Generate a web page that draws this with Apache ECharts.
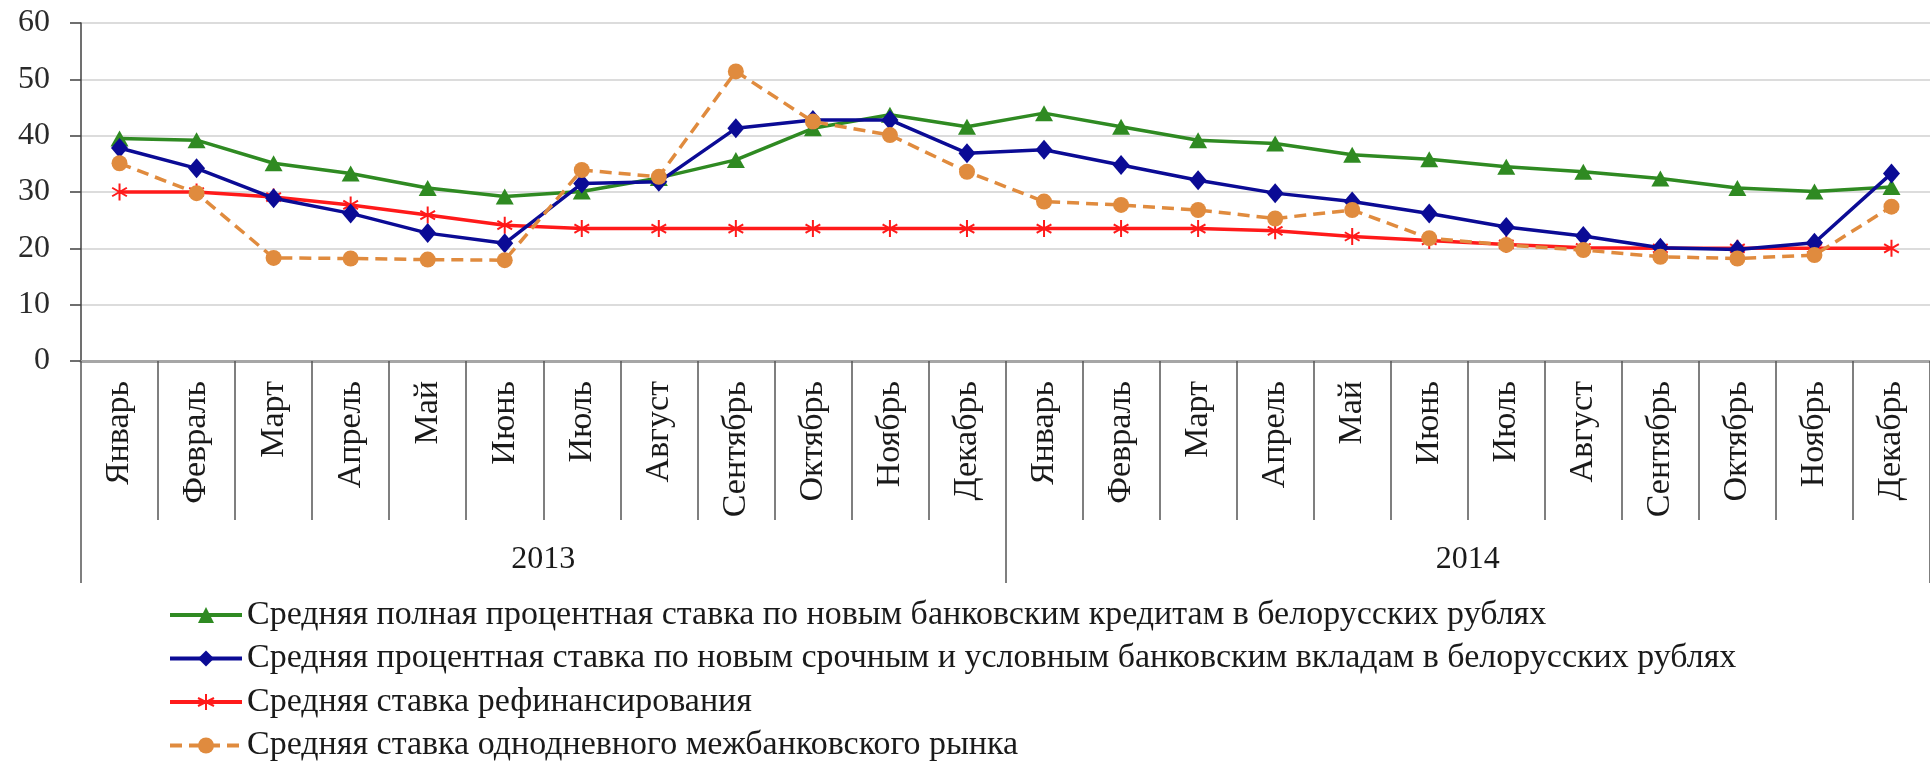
<!DOCTYPE html>
<html><head><meta charset="utf-8">
<script src="https://cdn.jsdelivr.net/npm/echarts@6/dist/echarts.min.js"></script>
<style>html,body{margin:0;padding:0;background:#fff}#c{width:1930px;height:766px}</style>
</head><body><div id="c"></div>
<script>
const months = ['Январь','Февраль','Март','Апрель','Май','Июнь','Июль','Август','Сентябрь','Октябрь','Ноябрь','Декабрь',
                'Январь','Февраль','Март','Апрель','Май','Июнь','Июль','Август','Сентябрь','Октябрь','Ноябрь','Декабрь'];
const years = ['2013','2014'];
const yTicks = [0,10,20,30,40,50,60];

const nameLoans = 'Средняя полная процентная ставка по новым банковским кредитам в белорусских рублях';
const nameDeposits = 'Средняя процентная ставка по новым срочным и условным банковским вкладам в белорусских рублях';
const nameRefin = 'Средняя ставка рефинансирования';
const nameInterbank = 'Средняя ставка однодневного межбанковского рынка';

const loans = [39.5,39.2,35.1,33.3,30.7,29.2,30.1,32.5,35.7,41.3,43.7,41.6,
               44.0,41.6,39.2,38.6,36.6,35.8,34.5,33.6,32.4,30.7,30.1,30.9];
const deposits = [37.8,34.2,28.9,26.2,22.7,20.9,31.5,31.8,41.3,42.8,42.8,36.9,
                  37.5,34.8,32.1,29.8,28.3,26.2,23.8,22.2,20.1,19.8,21.0,33.3];
const refin = [30.0,30.0,29.1,27.7,25.9,24.1,23.5,23.5,23.5,23.5,23.5,23.5,
               23.5,23.5,23.5,23.1,22.1,21.4,20.7,20.1,20.0,20.0,20.0,20.0];
const interbank = [35.1,29.8,18.3,18.2,18.0,17.9,33.9,32.7,51.4,42.5,40.1,33.6,
                   28.3,27.7,26.8,25.3,26.8,21.8,20.6,19.7,18.5,18.2,18.8,27.4];

const FONT = 'Liberation Serif';
const cGreen = '#2f8a22', cBlue = '#0b0b95', cRed = '#ff1a1a', cOrange = '#e08b3e';
const star = 'path://M0,-10L0,10M-8.66,-5L8.66,5M-8.66,5L8.66,-5';

const chart = echarts.init(document.getElementById('c'), null, {renderer:'canvas'});
chart.setOption({
  animation:false,
  backgroundColor:'#fff',
  grid:{left:81, width:1852, top:23, bottom:405, containLabel:false},
  legend:{
    orient:'vertical', left:168, top:598, height:168, padding:0,
    itemWidth:72, itemHeight:20, itemGap:9.5,
    selectedMode:false,
    lineStyle:{width:4},
    textStyle:{fontFamily:FONT, fontSize:34, lineHeight:34, color:'#1a1a1a'},
    data:[nameLoans,nameDeposits,nameRefin,nameInterbank]
  },
  xAxis:[{
    type:'category', data:months, position:'bottom', boundaryGap:true,
    axisLine:{show:true, lineStyle:{color:'#a6a6a6', width:3}},
    axisTick:{show:true, interval:0, length:159, lineStyle:{color:'#555', width:1.5}},
    axisLabel:{interval:0, rotate:90, margin:20, fontFamily:FONT, fontSize:34, color:'#1a1a1a'},
    splitLine:{show:false}
  },{
    type:'category', data:years, position:'bottom', offset:0, boundaryGap:true,
    axisLine:{show:false},
    axisTick:{show:true, interval:0, length:222, lineStyle:{color:'#555', width:1.5}},
    axisLabel:{interval:0, margin:183, fontFamily:FONT, fontSize:32, color:'#1a1a1a'},
    splitLine:{show:false}
  }],
  yAxis:{
    type:'value', min:yTicks[0], max:yTicks[yTicks.length-1], interval:10,
    axisLine:{show:true, lineStyle:{color:'#404040', width:1.5}},
    axisTick:{show:true, length:11, lineStyle:{color:'#404040', width:1.5}},
    axisLabel:{margin:31, fontFamily:FONT, fontSize:32, color:'#2a2a2a'},
    splitLine:{show:true, lineStyle:{color:'#dcdcdc', width:2}}
  },
  series:[
    {name:nameLoans, type:'line', xAxisIndex:0, data:loans, symbol:'triangle', symbolSize:[18,16],
     lineStyle:{color:cGreen, width:3.5}, itemStyle:{color:cGreen}, z:3},
    {name:nameDeposits, type:'line', xAxisIndex:0, data:deposits, symbol:'diamond', symbolSize:[17,20],
     lineStyle:{color:cBlue, width:3.5}, itemStyle:{color:cBlue}, z:4},
    {name:nameRefin, type:'line', xAxisIndex:0, data:refin, symbol:star, symbolSize:17, symbolKeepAspect:true,
     lineStyle:{color:cRed, width:3.5}, itemStyle:{color:cRed, borderColor:cRed, borderWidth:2}, z:2},
    {name:nameInterbank, type:'line', xAxisIndex:0, data:interbank, symbol:'circle', symbolSize:16,
     lineStyle:{color:cOrange, width:3.5, type:[12,7]}, itemStyle:{color:cOrange}, z:5}
  ]
});
</script></body></html>
